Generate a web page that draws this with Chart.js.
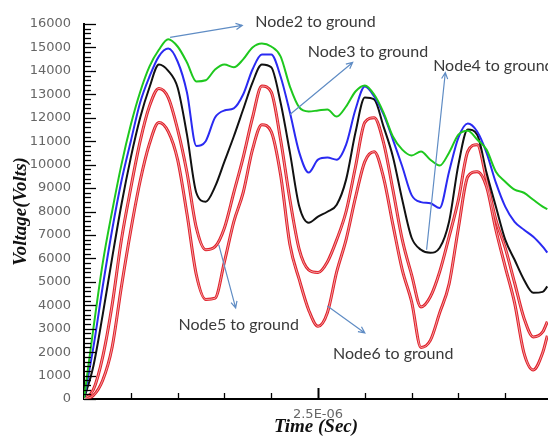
<!DOCTYPE html>
<html lang="en">
<head>
    <meta charset="UTF-8">
    <title>Node Voltages</title>
    <style>
        body {
            margin: 0;
            background: #ffffff;
        }
        #chart {
            display: block;
        }
    </style>
</head>
<body>
    <canvas id="chart" width="548" height="438"></canvas>

    <script src="https://cdn.jsdelivr.net/npm/chart.js"></script>
    <script>
        // sample times in microseconds
        const timeUs = [
            0, 0.1, 0.2, 0.3, 0.4, 0.5, 0.6, 0.7, 0.8, 0.9,
            1.0, 1.1, 1.2, 1.3, 1.4, 1.5, 1.6, 1.7, 1.8, 1.9,
            2.0, 2.1, 2.2, 2.3, 2.4, 2.5, 2.6, 2.7, 2.8, 2.9,
            3.0, 3.1, 3.2, 3.3, 3.4, 3.5, 3.6, 3.7, 3.8, 3.9,
            4.0, 4.1, 4.2, 4.3, 4.4, 4.5, 4.6, 4.7, 4.8, 4.9, 4.95
        ];

        // voltages (V) to ground at each node
        const node2 = [
            0, 3000, 5800, 8000, 10000, 11700, 13100, 14190, 14900, 15350,
            15040, 14360, 13550, 13600, 14060, 14270, 14150, 14490, 15000, 15170,
            15040, 14620, 13330, 12440, 12270, 12310, 12350, 12050, 12480, 13120,
            13380, 12990, 12220, 11200, 10640, 10390, 10560, 10210, 9960, 10510,
            11280, 11450, 11070, 10640, 9700, 9270, 8930, 8800, 8500, 8210, 8100
        ];
        const node3 = [
            0, 2200, 4800, 7200, 9300, 11000, 12650, 13760, 14620, 14950,
            14400, 13080, 10800, 11000, 12010, 12310, 12400, 12990, 14060, 14700,
            14700, 13760, 12220, 10510, 9660, 10210, 10300, 10210, 10850, 12350,
            13330, 12910, 12140, 11070, 9920, 8700, 8400, 8350, 8150, 9700,
            11150, 11750, 11410, 10510, 9230, 8210, 7560, 7220, 6920, 6500, 6250
        ];
        const node4 = [
            0, 1400, 3600, 6000, 8300, 10300, 12000, 13300, 14270, 14000,
            13290, 11280, 8800, 8420, 9060, 10130, 11200, 12350, 13500, 14270,
            14150, 12650, 10510, 8210, 7520, 7780, 7990, 8290, 9360, 11370,
            12860, 12780, 11620, 10340, 8500, 6880, 6370, 6240, 6450, 7560,
            10000, 11500, 11280, 9660, 8210, 6800, 5940, 5090, 4530, 4570, 4800
        ];
        const node5 = [
            0, 400, 1800, 4000, 6800, 9000, 11000, 12500, 13250, 12860,
            11500, 9660, 7310, 6370, 6500, 7300, 8800, 10300, 12000, 13350,
            13100, 11070, 8500, 6370, 5510, 5400, 5850, 6800, 8000, 9900,
            11800, 12000, 10940, 8930, 6800, 5300, 3930, 4360, 5430, 6920,
            8500, 10560, 10850, 9360, 7650, 6450, 4960, 3460, 2650, 2860, 3300
        ];
        const node6 = [
            0, 150, 800, 2200, 4800, 7200, 9300, 10900, 11800, 11410,
            10210, 7900, 5300, 4250, 4300, 5850, 7560, 8800, 10640, 11700,
            11410, 9570, 6580, 5090, 3800, 3100, 3680, 5430, 6800, 8590,
            10130, 10550, 9450, 7440, 5510, 4150, 2200, 2500, 3680, 4900,
            7300, 9490, 9700, 9060, 7220, 5640, 4100, 1970, 1240, 1970, 2700
        ];

        const yTickStep = 1000;
        const yMinorStep = 200;
        const xTickStep = 0.5e-6;
        const xLabelled = [2.5e-6];

        // callout text with its arrow, all in data units (time µs, volts)
        const callouts = [
            { text: 'Node2 to ground', at: [1.83, 16110], from: [0.92, 15430], to: [1.69, 15940] },
            { text: 'Node3 to ground', at: [2.39, 14830], from: [2.20, 12140], to: [2.87, 14360] },
            { text: 'Node4 to ground', at: [3.73, 14230], from: [3.66, 6370], to: [3.86, 13930] },
            { text: 'Node5 to ground', at: [1.01, 3160], from: [1.44, 6580], to: [1.62, 3890] },
            { text: 'Node6 to ground', at: [2.66, 1920], from: [2.60, 3970], to: [3.00, 2820] }
        ];

        const toPoints = values => values.map((v, i) => ({ x: timeUs[i] * 1e-6, y: v }));

        function series(values, color, width, order) {
            return {
                data: toPoints(values),
                borderColor: color,
                borderWidth: width,
                pointRadius: 0,
                fill: false,
                cubicInterpolationMode: 'monotone',
                order: order
            };
        }

        function sciLabel(v) {
            const [m, e] = v.toExponential(1).split('e');
            const exp = parseInt(e, 10);
            const sign = exp < 0 ? '-' : '+';
            return m + 'E' + sign + String(Math.abs(exp)).padStart(2, '0');
        }

        // tick marks pointing into the plot
        const innerTicks = {
            id: 'innerTicks',
            afterDatasetsDraw(chart) {
                const { ctx, scales: { x, y } } = chart;
                ctx.save();
                ctx.strokeStyle = '#000';
                ctx.lineWidth = 1.3;
                for (let v = y.min; v <= y.max; v += yMinorStep) {
                    const py = Math.round(y.getPixelForValue(v)) + 0.5;
                    const len = v % yTickStep === 0 ? 12 : 7;
                    ctx.beginPath();
                    ctx.moveTo(x.left, py);
                    ctx.lineTo(x.left + len, py);
                    ctx.stroke();
                }
                for (let i = 1; i * xTickStep <= x.max; i++) {
                    const t = i * xTickStep;
                    const px = Math.round(x.getPixelForValue(t)) + 0.5;
                    const major = xLabelled.some(m => Math.abs(m - t) < 1e-12);
                    ctx.lineWidth = major ? 2 : 1.3;
                    ctx.beginPath();
                    ctx.moveTo(px, y.bottom);
                    ctx.lineTo(px, y.bottom - (major ? 11 : 6));
                    ctx.stroke();
                }
                ctx.restore();
            }
        };

        // labelled arrows naming each curve
        const calloutPlugin = {
            id: 'callouts',
            afterDraw(chart) {
                const { ctx, scales: { x, y } } = chart;
                const px = p => [x.getPixelForValue(p[0] * 1e-6), y.getPixelForValue(p[1])];
                ctx.save();
                callouts.forEach(c => {
                    const [x1, y1] = px(c.from);
                    const [x2, y2] = px(c.to);
                    ctx.strokeStyle = '#5f8cc4';
                    ctx.lineWidth = 1.2;
                    ctx.beginPath();
                    ctx.moveTo(x1, y1);
                    ctx.lineTo(x2, y2);
                    const a = Math.atan2(y2 - y1, x2 - x1);
                    const h = 7;
                    ctx.moveTo(x2 - h * Math.cos(a - 0.45), y2 - h * Math.sin(a - 0.45));
                    ctx.lineTo(x2, y2);
                    ctx.lineTo(x2 - h * Math.cos(a + 0.45), y2 - h * Math.sin(a + 0.45));
                    ctx.stroke();

                    const [tx, ty] = px(c.at);
                    ctx.fillStyle = '#3a3a3a';
                    ctx.font = '16px Lato, "Open Sans", sans-serif';
                    ctx.textAlign = 'left';
                    ctx.textBaseline = 'middle';
                    ctx.fillText(c.text, tx, ty);
                });
                ctx.restore();
            }
        };

        const tickFont = { family: '"DejaVu Sans", Arial, sans-serif', size: 13 };
        const titleFont = { family: '"Liberation Serif", "DejaVu Serif", serif', size: 19, style: 'italic', weight: 'bold' };

        const ctx = document.getElementById('chart').getContext('2d');
        new Chart(ctx, {
            type: 'line',
            data: {
                datasets: [
                    series(node2, '#1ec81e', 2, 5),
                    series(node3, '#2a2af2', 2, 5),
                    series(node4, '#111111', 2, 5),
                    series(node5, '#e0202a', 3, 5),
                    series(node6, '#e0202a', 3, 5),
                    // light core gives the red traces their double-line look
                    series(node5, '#f6c2c2', 0.8, 1),
                    series(node6, '#f6c2c2', 0.8, 1)
                ]
            },
            options: {
                responsive: false,
                animation: false,
                layout: { padding: { top: 24, right: 0, bottom: 0, left: 0 } },
                plugins: {
                    legend: { display: false },
                    tooltip: { enabled: false }
                },
                scales: {
                    x: {
                        type: 'linear',
                        min: 0,
                        max: timeUs[timeUs.length - 1] * 1e-6 + 0.007e-6,
                        afterFit: s => { s.height = 39; },
                        grid: { display: false },
                        border: { display: true, color: '#000', width: 2 },
                        ticks: {
                            stepSize: xTickStep,
                            padding: 0,
                            color: '#666',
                            font: tickFont,
                            maxRotation: 0,
                            autoSkip: false,
                            callback: v => xLabelled.some(m => Math.abs(m - v) < 1e-12) ? sciLabel(v) : ''
                        },
                        title: {
                            display: true,
                            text: 'Time (Sec)',
                            color: '#111',
                            padding: { top: 0, bottom: 0 },
                            font: titleFont
                        }
                    },
                    y: {
                        min: 0,
                        max: 16000,
                        afterFit: s => { s.width = 84; },
                        grid: { display: false },
                        border: { display: true, color: '#000', width: 2 },
                        ticks: {
                            stepSize: yTickStep,
                            padding: 5,
                            color: '#666',
                            font: tickFont,
                            callback: v => String(v)
                        },
                        title: {
                            display: true,
                            text: 'Voltage(Volts)',
                            color: '#111',
                            padding: { top: 10, bottom: 0 },
                            font: titleFont
                        }
                    }
                }
            },
            plugins: [innerTicks, calloutPlugin]
        });
    </script>
</body>
</html>
